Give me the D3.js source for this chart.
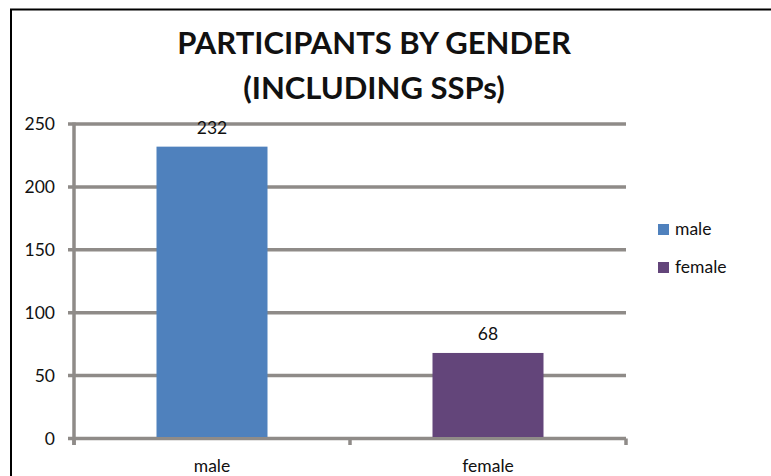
<!DOCTYPE html>
<html>
<head>
<meta charset="utf-8">
<script src="https://cdn.jsdelivr.net/npm/d3@7"></script>
<style>
body { margin: 0; background: #fff; }
svg { display: block; font-family: Lato, "Open Sans", sans-serif; }
</style>
</head>
<body>
<svg id="chart" width="771" height="476"></svg>
<script>
var categories = ["male", "female"];
var values = [232, 68];
var barColors = ["#4f81bd", "#63457a"];
var yTicks = [0, 50, 100, 150, 200, 250];
var titleLines = ["PARTICIPANTS BY GENDER", "(INCLUDING SSPs)"];

var svg = d3.select("#chart");
var gridColor = "#8f8b88";
var labelSize = 17.5;

// outer frame (top + left only visible)
svg.append("path")
	.attr("d", "M11,476 L11,9.5 L771,9.5")
	.attr("fill", "none")
	.attr("stroke", "#000")
	.attr("stroke-width", 2);

var x = d3.scaleBand()
	.domain(categories)
	.range([74, 626])
	.paddingInner(0)
	.paddingOuter(0);

var y = d3.scaleLinear()
	.domain([0, 250])
	.range([438.5, 124]);

// gridlines
svg.append("g")
	.selectAll("line")
	.data(yTicks)
	.join("line")
	.attr("x1", 68)
	.attr("x2", 626)
	.attr("y1", d => y(d))
	.attr("y2", d => y(d))
	.attr("stroke", gridColor)
	.attr("stroke-width", 3.5);

// y axis line
svg.append("line")
	.attr("x1", 74).attr("x2", 74)
	.attr("y1", y(250) - 1.5).attr("y2", 445)
	.attr("stroke", gridColor)
	.attr("stroke-width", 3.5);

// x category ticks
var xTickPos = [x.range()[0]].concat(categories.map(c => x(c) + x.bandwidth()));
svg.append("g")
	.selectAll("line")
	.data(xTickPos)
	.join("line")
	.attr("x1", d => d).attr("x2", d => d)
	.attr("y1", y(0)).attr("y2", 445)
	.attr("stroke", gridColor)
	.attr("stroke-width", 3.5);

// y tick labels
svg.append("g")
	.selectAll("text")
	.data(yTicks)
	.join("text")
	.attr("x", 55)
	.attr("y", d => y(d) + 6)
	.attr("text-anchor", "end")
	.attr("font-size", labelSize)
	.attr("fill", "#111")
	.text(d => d);

// bars
var barW = 111;
svg.append("g")
	.selectAll("rect")
	.data(values)
	.join("rect")
	.attr("x", (d, i) => x(categories[i]) + x.bandwidth() / 2 - barW / 2)
	.attr("y", d => y(d))
	.attr("width", barW)
	.attr("height", d => y(0) - y(d) - 1.5)
	.attr("fill", (d, i) => barColors[i]);

// value labels
svg.append("g")
	.selectAll("text")
	.data(values)
	.join("text")
	.attr("x", (d, i) => x(categories[i]) + x.bandwidth() / 2)
	.attr("y", d => y(d) - 13)
	.attr("text-anchor", "middle")
	.attr("font-size", labelSize)
	.attr("fill", "#111")
	.text(d => d);

// category labels
svg.append("g")
	.selectAll("text")
	.data(categories)
	.join("text")
	.attr("x", d => x(d) + x.bandwidth() / 2)
	.attr("y", 472)
	.attr("text-anchor", "middle")
	.attr("font-size", labelSize)
	.attr("fill", "#111")
	.text(d => d);

// title
svg.append("g")
	.selectAll("text")
	.data(titleLines)
	.join("text")
	.attr("x", 374)
	.attr("y", (d, i) => 54 + i * 45)
	.attr("text-anchor", "middle")
	.attr("font-size", 31)
	.attr("font-weight", "bold")
	.attr("fill", "#111")
	.text(d => d);

// legend
var legend = svg.append("g")
	.selectAll("g")
	.data(categories)
	.join("g")
	.attr("transform", (d, i) => "translate(658," + (224 + i * 38) + ")");
legend.append("rect")
	.attr("width", 11).attr("height", 11)
	.attr("fill", (d, i) => barColors[i]);
legend.append("text")
	.attr("x", 17)
	.attr("y", 11)
	.attr("font-size", labelSize)
	.attr("fill", "#111")
	.text(d => d);
</script>
</body>
</html>
